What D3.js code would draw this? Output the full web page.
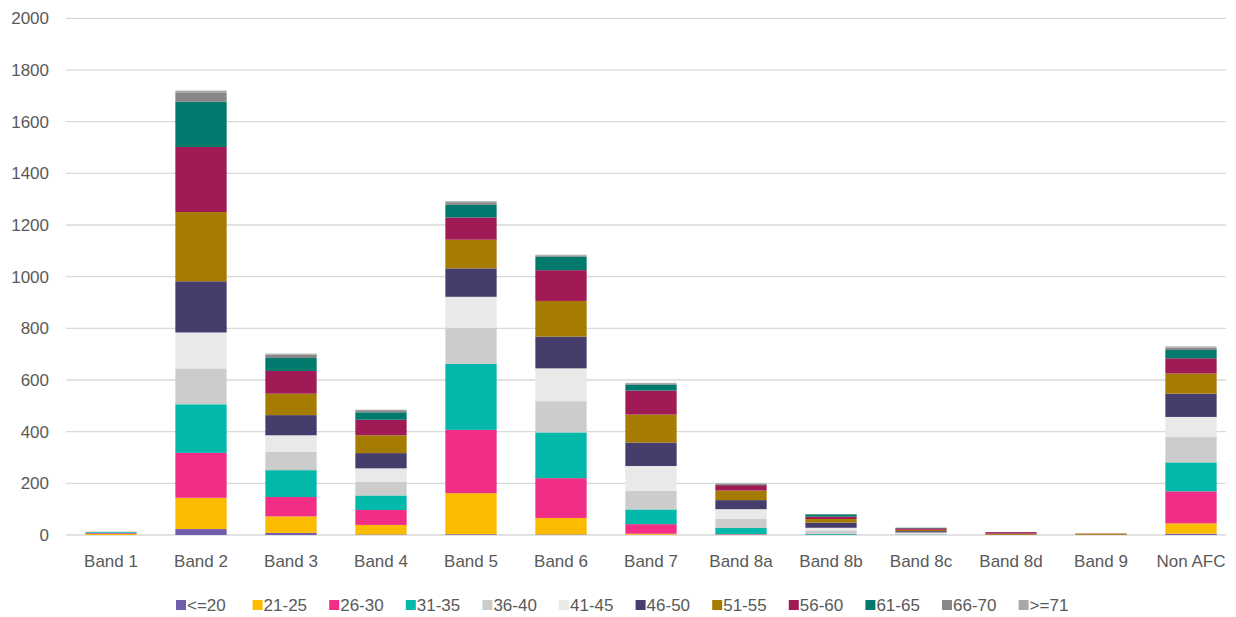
<!DOCTYPE html>
<html>
<head>
<meta charset="utf-8">
<script src="https://cdn.jsdelivr.net/npm/d3@7"></script>
<style>
  html, body { margin: 0; padding: 0; background: #fff; }
  svg { display: block; font-family: "Liberation Sans", Arial, sans-serif; }
</style>
</head>
<body>
<svg id="chart" width="1236" height="617"></svg>
<script>
// Staff headcount by pay band, stacked by age group
const bands = ["Band 1", "Band 2", "Band 3", "Band 4", "Band 5", "Band 6", "Band 7",
               "Band 8a", "Band 8b", "Band 8c", "Band 8d", "Band 9", "Non AFC"];
const ageGroups = ["<=20", "21-25", "26-30", "31-35", "36-40", "41-45",
                   "46-50", "51-55", "56-60", "61-65", "66-70", ">=71"];
const yTicks = [0, 200, 400, 600, 800, 1000, 1200, 1400, 1600, 1800, 2000];

const age20  = [0, 23, 8, 2, 3, 2, 1, 0, 0, 0, 0, 0, 5];
const age25  = [4, 121, 64, 37, 159, 64, 4, 1, 0, 0, 0, 0, 40];
const age30  = [3, 174, 75, 58, 245, 154, 37, 2, 1, 0, 0, 0, 124];
const age35  = [4, 188, 104, 56, 255, 177, 57, 24, 3, 1, 0, 0, 112];
const age40  = [3, 139, 72, 54, 139, 121, 72, 36, 14, 5, 0, 0, 98];
const age45  = [3, 139, 63, 51, 121, 127, 96, 37, 10, 4, 0, 0, 78];
const age50  = [0, 198, 78, 59, 110, 123, 91, 35, 20, 5, 1, 1, 90];
const age55  = [0, 268, 83, 69, 111, 138, 108, 37, 14, 5, 4, 4, 78];
const age60  = [0, 252, 88, 60, 86, 119, 93, 21, 9, 6, 6, 1, 59];
const age65  = [0, 175, 50, 29, 49, 52, 23, 1, 9, 2, 0, 0, 32];
const age70  = [0, 34, 13, 8, 10, 5, 5, 4, 1, 0, 0, 0, 9];
const age71p = [0, 9, 4, 2, 4, 3, 2, 2, 0, 0, 0, 0, 5];

const seriesValues = [age20, age25, age30, age35, age40, age45,
                      age50, age55, age60, age65, age70, age71p];

const colors = ["#6E5EAB", "#FBBC00", "#F22D86", "#01B8AA", "#CCCCCC", "#E9E9E9",
                "#463D6D", "#A67C00", "#A01A55", "#007A6C", "#878787", "#A8A8A8"];

// rows for d3.stack
const rows = bands.map((b, i) => {
  const r = { band: b };
  ageGroups.forEach((g, k) => { r[g] = seriesValues[k][i]; });
  return r;
});

const svg = d3.select("#chart");
const textColor = "#595959";
const fontSize = "17px";

const x = d3.scaleBand()
  .domain(bands)
  .range([66, 1236])
  .paddingInner(0.43)
  .paddingOuter(0.215);

const y = d3.scaleLinear()
  .domain([0, 2000])
  .range([535, 18.3]);

// gridlines
svg.append("g")
  .selectAll("line")
  .data(yTicks)
  .join("line")
  .attr("x1", 66)
  .attr("x2", 1226)
  .attr("y1", d => y(d))
  .attr("y2", d => y(d))
  .attr("stroke", "#D9D9D9")
  .attr("stroke-width", 1.3);

// y axis labels
const yAxis = d3.axisLeft(y).tickValues(yTicks).tickFormat(d3.format("d"))
  .tickSize(0).tickPadding(0);
svg.append("g")
  .attr("transform", "translate(49,0)")
  .call(yAxis)
  .call(g => g.select(".domain").remove())
  .call(g => g.selectAll("text")
    .attr("fill", textColor)
    .style("font-size", fontSize)
    .style("font-family", "'Liberation Sans', Arial, sans-serif"));

// stacked bars
const stack = d3.stack().keys(ageGroups);
const layers = stack(rows);

svg.append("g")
  .selectAll("g")
  .data(layers)
  .join("g")
  .attr("fill", (d, i) => colors[i])
  .selectAll("rect")
  .data(d => d)
  .join("rect")
  .attr("x", d => x(d.data.band))
  .attr("width", x.bandwidth())
  .attr("y", d => y(d[1]))
  .attr("height", d => Math.max(0, y(d[0]) - y(d[1])));

// x axis labels
const xAxis = d3.axisBottom(x).tickSize(0).tickPadding(0);
svg.append("g")
  .attr("transform", "translate(0,555)")
  .call(xAxis)
  .call(g => g.select(".domain").remove())
  .call(g => g.selectAll("text")
    .attr("fill", textColor)
    .attr("dy", "0.71em")
    .style("font-size", fontSize)
    .style("font-family", "'Liberation Sans', Arial, sans-serif"));

// legend
const legend = svg.append("g").attr("transform", "translate(176,605)");
const item = legend.selectAll("g")
  .data(ageGroups)
  .join("g")
  .attr("transform", (d, i) => `translate(${i * 76.6},0)`);
item.append("rect")
  .attr("x", 0)
  .attr("y", -5)
  .attr("width", 10)
  .attr("height", 10)
  .attr("fill", (d, i) => colors[i]);
item.append("text")
  .attr("x", 11)
  .attr("y", 0)
  .attr("dy", "0.35em")
  .attr("fill", textColor)
  .style("font-size", fontSize)
  .text(d => d);
</script>
</body>
</html>
